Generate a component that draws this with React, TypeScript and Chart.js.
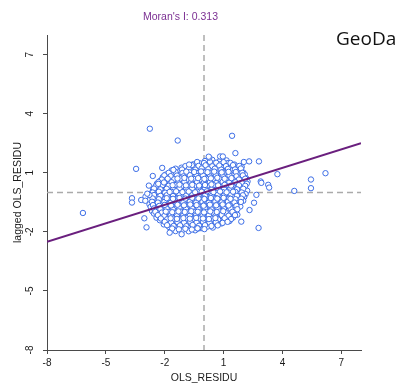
import React, { useEffect, useRef } from 'react';
import { Chart, registerables } from 'chart.js';

Chart.register(...registerables);

const titleText = "Moran's I: 0.313";
const brandText = 'GeoDa';
const xAxisTitle = 'OLS_RESIDU';
const yAxisTitle = 'lagged OLS_RESIDU';
const moranI = 0.313;
const axisMin = -8;
const axisMax = 8;
const meanX = 0;
const meanY = 0;
const xTickValues = [-8, -5, -2, 1, 4, 7];
const yTickValues = [-8, -5, -2, 1, 4, 7];

const corePoints: [number, number][] = [
  [0.05,1.6],[0.42,1.66],[0.78,1.58],[1.15,1.63],
  [-0.55,1.43],[-0.2,1.48],[0.12,1.41],[0.48,1.47],[0.85,1.44],[1.22,1.49],[1.55,1.42],
  [-1.15,1.26],[-0.8,1.31],[-0.45,1.24],[-0.1,1.3],[0.25,1.27],[0.6,1.32],[0.95,1.25],[1.3,1.29],[1.68,1.23],[1.92,1.3],
  [-1.65,1.12],[-1.3,1.06],[-0.95,1.14],[-0.6,1.08],[-0.28,1.03],[0.05,1.13],[0.38,1.09],[0.72,1.15],[1.05,1.05],[1.4,1.11],[1.75,1.07],[2.0,1.02],
  [-1.95,0.91],[-1.6,0.96],[-1.25,0.9],[-0.9,0.95],[-0.55,0.92],[-0.22,0.97],[0.12,0.89],[0.45,0.94],[0.8,0.91],[1.12,0.96],[1.48,0.9],[1.8,0.95],[2.08,0.92],
  [-2.1,0.78],[-1.78,0.73],[-1.45,0.79],[-1.12,0.74],[-0.78,0.77],[-0.45,0.72],[-0.12,0.8],[0.2,0.75],[0.55,0.78],[0.88,0.73],[1.2,0.79],[1.55,0.74],[1.88,0.77],[2.15,0.72],
  [-2.25,0.58],[-1.92,0.63],[-1.58,0.57],[-1.25,0.62],[-0.92,0.59],[-0.6,0.64],[-0.28,0.56],[0.05,0.61],[0.38,0.58],[0.7,0.63],[1.02,0.57],[1.35,0.62],[1.68,0.59],[2.0,0.64],[2.22,0.56],
  [-2.4,0.45],[-2.05,0.4],[-1.72,0.46],[-1.4,0.41],[-1.08,0.44],[-0.75,0.39],[-0.42,0.47],[-0.1,0.42],[0.22,0.45],[0.55,0.4],[0.88,0.46],[1.2,0.41],[1.52,0.44],[1.85,0.39],[2.18,0.45],
  [-2.5,0.25],[-2.18,0.3],[-1.85,0.24],[-1.52,0.29],[-1.2,0.26],[-0.88,0.31],[-0.55,0.23],[-0.22,0.28],[0.1,0.25],[0.42,0.3],[0.75,0.24],[1.08,0.29],[1.4,0.26],[1.72,0.31],[2.05,0.23],
  [-2.6,0.12],[-2.28,0.07],[-1.95,0.13],[-1.62,0.08],[-1.3,0.11],[-0.98,0.06],[-0.65,0.14],[-0.32,0.09],[0.0,0.12],[0.32,0.07],[0.65,0.13],[0.98,0.08],[1.3,0.11],[1.62,0.06],[1.95,0.14],[2.2,0.09],
  [-2.7,-0.05],[-2.38,-0.1],[-2.05,-0.04],[-1.72,-0.09],[-1.4,-0.06],[-1.08,-0.11],[-0.75,-0.03],[-0.42,-0.08],[-0.1,-0.05],[0.22,-0.1],[0.55,-0.04],[0.88,-0.09],[1.2,-0.06],[1.52,-0.11],[1.85,-0.03],[2.12,-0.08],
  [-2.75,-0.26],[-2.45,-0.21],[-2.12,-0.27],[-1.8,-0.22],[-1.48,-0.25],[-1.15,-0.2],[-0.82,-0.28],[-0.5,-0.23],[-0.18,-0.26],[0.15,-0.21],[0.48,-0.27],[0.8,-0.22],[1.12,-0.25],[1.45,-0.2],[1.78,-0.28],[2.05,-0.23],
  [-2.8,-0.39],[-2.5,-0.44],[-2.2,-0.38],[-1.88,-0.43],[-1.55,-0.4],[-1.22,-0.45],[-0.9,-0.37],[-0.58,-0.42],[-0.25,-0.39],[0.08,-0.44],[0.4,-0.38],[0.72,-0.43],[1.05,-0.4],[1.38,-0.45],[1.7,-0.37],[2.0,-0.42],
  [-2.78,-0.6],[-2.45,-0.55],[-2.12,-0.61],[-1.8,-0.56],[-1.48,-0.59],[-1.15,-0.54],[-0.82,-0.62],[-0.5,-0.57],[-0.18,-0.6],[0.15,-0.55],[0.48,-0.61],[0.8,-0.56],[1.12,-0.59],[1.45,-0.54],[1.78,-0.62],
  [-2.72,-0.73],[-2.4,-0.78],[-2.08,-0.72],[-1.75,-0.77],[-1.42,-0.74],[-1.1,-0.79],[-0.78,-0.71],[-0.45,-0.76],[-0.12,-0.73],[0.2,-0.78],[0.52,-0.72],[0.85,-0.77],[1.18,-0.74],[1.5,-0.79],[1.85,-0.71],
  [-2.65,-0.94],[-2.32,-0.89],[-2.0,-0.95],[-1.68,-0.9],[-1.35,-0.93],[-1.02,-0.88],[-0.7,-0.96],[-0.38,-0.91],[-0.05,-0.94],[0.28,-0.89],[0.6,-0.95],[0.92,-0.9],[1.25,-0.93],[1.58,-0.88],
  [-2.55,-1.07],[-2.22,-1.12],[-1.9,-1.06],[-1.58,-1.11],[-1.25,-1.08],[-0.92,-1.13],[-0.6,-1.05],[-0.28,-1.1],[0.05,-1.07],[0.38,-1.12],[0.7,-1.06],[1.02,-1.11],[1.35,-1.08],[1.7,-1.13],
  [-2.42,-1.28],[-2.1,-1.23],[-1.78,-1.29],[-1.45,-1.24],[-1.12,-1.27],[-0.8,-1.22],[-0.48,-1.3],[-0.15,-1.25],[0.18,-1.28],[0.5,-1.23],[0.82,-1.29],[1.15,-1.24],[1.48,-1.27],
  [-2.25,-1.41],[-1.92,-1.46],[-1.6,-1.4],[-1.28,-1.45],[-0.95,-1.42],[-0.62,-1.47],[-0.3,-1.39],[0.02,-1.44],[0.35,-1.41],[0.68,-1.46],[1.0,-1.4],[1.3,-1.45],
  [-2.05,-1.62],[-1.72,-1.57],[-1.4,-1.63],[-1.08,-1.58],[-0.75,-1.61],[-0.42,-1.56],[-0.1,-1.64],[0.22,-1.59],[0.55,-1.62],[0.9,-1.57],
  [-1.78,-1.75],[-1.45,-1.8],[-1.12,-1.74],[-0.8,-1.79],[-0.48,-1.76],[-0.15,-1.81],[0.18,-1.73],[0.45,-1.78],
  [-1.45,-1.96],[-1.1,-1.91],[-0.78,-1.97],[-0.45,-1.92],
];

const coreFillPoints: [number, number][] = [
  [-0.35,1.55],[0.0,1.5],[0.3,1.56],[0.62,1.51],[1.0,1.54],[1.35,1.5],
  [-0.95,1.34],[-0.62,1.39],[-0.28,1.35],[0.08,1.38],[0.42,1.33],[0.78,1.37],[1.12,1.34],[1.48,1.39],[1.8,1.35],
  [-1.45,1.21],[-1.12,1.17],[-0.78,1.2],[-0.44,1.16],[-0.12,1.22],[0.22,1.18],[0.55,1.21],[0.88,1.16],[1.22,1.2],[1.58,1.17],[1.88,1.22],
  [-1.8,1.0],[-1.45,1.04],[-1.1,0.99],[-0.75,1.03],[-0.4,1.0],[-0.05,1.05],[0.28,1.01],[0.62,0.98],[0.95,1.03],[1.3,0.99],[1.62,1.04],[1.95,1.0],
  [-2.02,0.87],[-1.7,0.83],[-1.38,0.86],[-1.05,0.82],[-0.72,0.88],[-0.38,0.84],[-0.05,0.86],[0.3,0.82],[0.62,0.87],[0.95,0.84],[1.3,0.86],[1.65,0.82],[1.98,0.87],
  [-2.15,0.66],[-1.85,0.7],[-1.52,0.67],[-1.2,0.71],[-0.85,0.65],[-0.52,0.69],[-0.2,0.66],[0.12,0.7],[0.45,0.67],[0.78,0.71],[1.12,0.65],[1.45,0.69],[1.78,0.66],[2.1,0.7],
  [-2.32,0.53],[-2.0,0.49],[-1.65,0.52],[-1.32,0.48],[-1.0,0.54],[-0.68,0.5],[-0.35,0.53],[-0.02,0.49],[0.3,0.52],[0.62,0.48],[0.95,0.54],[1.28,0.5],[1.6,0.52],[1.92,0.49],
  [-2.45,0.33],[-2.12,0.37],[-1.8,0.34],[-1.48,0.38],[-1.15,0.32],[-0.82,0.36],[-0.5,0.33],[-0.18,0.37],[0.15,0.34],[0.48,0.38],[0.8,0.32],[1.12,0.36],[1.45,0.33],[1.78,0.37],[2.1,0.34],
  [-2.55,0.2],[-2.22,0.16],[-1.9,0.19],[-1.58,0.15],[-1.25,0.21],[-0.92,0.17],[-0.6,0.2],[-0.28,0.16],[0.05,0.19],[0.38,0.15],[0.7,0.21],[1.02,0.17],[1.35,0.2],[1.68,0.16],[2.0,0.19],
  [-2.62,0.0],[-2.3,0.04],[-1.98,-0.01],[-1.65,0.03],[-1.32,-0.02],[-1.0,0.02],[-0.68,-0.01],[-0.35,0.04],[-0.02,0.0],[0.3,0.03],[0.62,-0.02],[0.95,0.02],[1.28,-0.01],[1.6,0.03],[1.92,0.0],
  [-2.55,-0.13],[-2.22,-0.17],[-1.9,-0.14],[-1.58,-0.18],[-1.25,-0.12],[-0.92,-0.16],[-0.6,-0.13],[-0.28,-0.17],[0.05,-0.14],[0.38,-0.18],[0.7,-0.12],[1.02,-0.16],[1.35,-0.13],[1.68,-0.17],[1.98,-0.14],
  [-2.62,-0.3],[-2.3,-0.34],[-1.98,-0.31],[-1.65,-0.35],[-1.32,-0.29],[-1.0,-0.33],[-0.68,-0.3],[-0.35,-0.34],[-0.02,-0.31],[0.3,-0.35],[0.62,-0.29],[0.95,-0.33],[1.28,-0.3],[1.6,-0.34],[1.9,-0.31],
  [-2.65,-0.47],[-2.35,-0.51],[-2.02,-0.48],[-1.7,-0.52],[-1.38,-0.46],[-1.05,-0.5],[-0.72,-0.47],[-0.4,-0.51],[-0.08,-0.48],[0.25,-0.52],[0.58,-0.46],[0.9,-0.5],[1.22,-0.47],[1.55,-0.51],[1.88,-0.48],
  [-2.6,-0.64],[-2.28,-0.68],[-1.95,-0.65],[-1.62,-0.69],[-1.3,-0.63],[-0.98,-0.67],[-0.65,-0.64],[-0.32,-0.68],[0.0,-0.65],[0.32,-0.69],[0.65,-0.63],[0.98,-0.67],[1.3,-0.64],[1.65,-0.68],
  [-2.55,-0.81],[-2.22,-0.85],[-1.9,-0.82],[-1.58,-0.86],[-1.25,-0.8],[-0.92,-0.84],[-0.6,-0.81],[-0.28,-0.85],[0.05,-0.82],[0.38,-0.86],[0.7,-0.8],[1.02,-0.84],[1.35,-0.81],[1.7,-0.85],
  [-2.48,-0.98],[-2.15,-1.02],[-1.82,-0.99],[-1.5,-1.03],[-1.18,-0.97],[-0.85,-1.01],[-0.52,-0.98],[-0.2,-1.02],[0.12,-0.99],[0.45,-1.03],[0.78,-0.97],[1.1,-1.01],[1.45,-0.98],
  [-2.35,-1.15],[-2.02,-1.19],[-1.7,-1.16],[-1.38,-1.2],[-1.05,-1.14],[-0.72,-1.18],[-0.4,-1.15],[-0.08,-1.19],[0.25,-1.16],[0.58,-1.2],[0.9,-1.14],[1.25,-1.18],[1.58,-1.15],
  [-2.2,-1.32],[-1.88,-1.36],[-1.55,-1.33],[-1.22,-1.37],[-0.9,-1.31],[-0.58,-1.35],[-0.25,-1.32],[0.08,-1.36],[0.4,-1.33],[0.72,-1.37],[1.05,-1.31],[1.38,-1.35],
  [-2.0,-1.49],[-1.68,-1.53],[-1.35,-1.5],[-1.02,-1.54],[-0.7,-1.48],[-0.38,-1.52],[-0.05,-1.49],[0.28,-1.53],[0.6,-1.5],[0.95,-1.54],[1.2,-1.49],
  [-1.88,-1.66],[-1.55,-1.7],[-1.22,-1.67],[-0.9,-1.71],[-0.58,-1.65],[-0.25,-1.69],[0.05,-1.66],[0.38,-1.7],[0.7,-1.67],
  [-1.62,-1.83],[-1.28,-1.87],[-0.95,-1.84],[-0.62,-1.88],[-0.3,-1.83],[0.02,-1.86],
];

const centerPoints: [number, number][] = [
  [-0.9,1.06],[-0.5,1.04],[-0.15,1.07],[0.18,1.03],[0.52,1.06],[0.9,1.02],[1.25,1.05],
  [-1.35,0.71],[-1.0,0.74],[-0.65,0.7],[-0.3,0.73],[0.02,0.69],[0.35,0.72],[0.68,0.75],[1.05,0.7],[1.4,0.73],
  [-1.6,0.37],[-1.25,0.4],[-0.92,0.36],[-0.6,0.39],[-0.25,0.35],[0.05,0.38],[0.38,0.41],[0.72,0.36],[1.05,0.39],[1.38,0.35],
  [-1.75,0.03],[-1.42,0.06],[-1.1,0.02],[-0.78,0.05],[-0.45,0.01],[-0.12,0.04],[0.15,0.06],[0.48,0.02],[0.82,0.05],[1.15,0.01],[1.48,0.04],
  [-1.9,-0.29],[-1.58,-0.32],[-1.25,-0.28],[-0.95,-0.31],[-0.6,-0.27],[-0.28,-0.3],[0.02,-0.33],[0.35,-0.28],[0.68,-0.31],[1.0,-0.27],[1.35,-0.32],
  [-2.0,-0.63],[-1.68,-0.66],[-1.35,-0.62],[-1.02,-0.65],[-0.7,-0.61],[-0.38,-0.64],[-0.02,-0.67],[0.3,-0.62],[0.62,-0.65],[0.95,-0.61],[1.25,-0.66],
  [-1.95,-0.97],[-1.62,-1.0],[-1.3,-0.96],[-0.98,-0.99],[-0.65,-0.95],[-0.32,-0.98],[0.0,-1.01],[0.32,-0.96],[0.65,-0.99],[0.98,-0.95],
  [-1.7,-1.31],[-1.38,-1.34],[-1.05,-1.3],[-0.72,-1.33],[-0.4,-1.29],[-0.05,-1.32],[0.25,-1.35],[0.58,-1.3],
];

const outlierPoints: [number, number][] = [
  [-2.76,3.24],[-1.34,2.64],[1.43,2.88],[-3.46,1.2],[-2.13,1.25],[-1.56,1.15],[-2.61,0.84],
  [0.27,1.77],[0.82,1.83],[0.96,1.83],[1.6,2.0],[2.03,1.55],[2.3,1.58],[2.8,1.58],[3.74,0.93],
  [-3.67,-0.29],[-3.67,-0.51],[-3.2,-0.38],[-3.04,-1.31],[-2.93,-1.77],[-1.75,-2.04],[-1.14,-2.12],[-0.33,-1.82],
  [1.9,-1.48],[2.78,-1.8],[2.32,-0.89],[2.55,-0.52],[2.67,-0.12],[2.89,0.56],[3.27,0.39],
  [-6.17,-1.04],[4.6,0.08],[5.45,0.66],[5.45,0.22],[6.19,0.98],[3.32,0.25],[2.92,0.49],
  [-2.33,0.44],[-2.04,0.51],[-2.81,0.35],[-2.98,-0.21],[-2.78,-0.12],[-0.76,1.42],[0.24,1.82],
  [-2.89,-0.06],[-2.99,-0.42],
];

const fitXs = [axisMin, axisMax];

const FONT = '"Liberation Sans", Arial, Helvetica, sans-serif';
const AXIS_COLOR = '#4a4a4a';
const TEXT_COLOR = '#1a1a1a';

const meanLinesPlugin = {
  id: 'meanLines',
  beforeDatasetsDraw(chart: any) {
    const { ctx, chartArea, scales } = chart;
    const px = scales.x.getPixelForValue(meanX);
    const py = scales.y.getPixelForValue(meanY);
    ctx.save();
    ctx.strokeStyle = '#aaaaaa';
    ctx.lineWidth = 1.5;
    ctx.setLineDash([6, 4]);
    ctx.beginPath();
    ctx.moveTo(px, chartArea.top);
    ctx.lineTo(px, chartArea.bottom);
    ctx.moveTo(chartArea.left, py);
    ctx.lineTo(chartArea.right, py);
    ctx.stroke();
    ctx.restore();
  },
};

const brandPlugin = {
  id: 'brandPlugin',
  afterDraw(chart: any) {
    const ctx = chart.ctx;
    ctx.save();
    ctx.font = '19px "Open Sans", sans-serif';
    ctx.fillStyle = '#111';
    ctx.textAlign = 'left';
    ctx.textBaseline = 'alphabetic';
    ctx.fillText(brandText, 336, 45);
    ctx.restore();
  },
};

export default function App() {
  const ref = useRef<HTMLCanvasElement | null>(null);
  useEffect(() => {
    if (!ref.current) return;
    const toXY = (p: [number, number]) => ({ x: p[0], y: p[1] });
    const chart = new Chart(ref.current, {
      type: 'scatter',
      data: {
        datasets: [
          {
            type: 'line',
            data: fitXs.map((x) => ({ x, y: x * moranI })),
            borderColor: '#6a1f7e',
            borderWidth: 2,
            pointRadius: 0,
            showLine: true,
            fill: false,
            order: 0,
          } as any,
          {
            data: [...corePoints, ...coreFillPoints, ...centerPoints, ...outlierPoints].map(toXY),
            pointRadius: 2.7,
            pointBorderWidth: 1,
            pointBorderColor: '#3d6ee6',
            pointBackgroundColor: '#ffffff',
            borderColor: '#3d6ee6',
            backgroundColor: '#ffffff',
            order: 1,
          },
        ],
      },
      options: {
        animation: false,
        responsive: false,
        maintainAspectRatio: false,
        layout: { padding: { left: 0, right: 45, top: 0, bottom: 0 } },
        plugins: {
          legend: { display: false },
          tooltip: { enabled: false },
          title: {
            display: true,
            text: titleText,
            color: '#7b2f92',
            font: { family: FONT, size: 10.5, weight: 'normal' },
            padding: { top: 10.7, bottom: 11.7 },
          },
        },
        scales: {
          x: {
            type: 'linear',
            min: axisMin,
            max: axisMax,
            afterBuildTicks: (s: any) => {
              s.ticks = xTickValues.map((v) => ({ value: v }));
            },
            afterFit: (s: any) => {
              s.height = 35;
            },
            ticks: {
              autoSkip: false,
              maxRotation: 0,
              padding: 3,
              color: TEXT_COLOR,
              font: { family: FONT, size: 10 },
            },
            grid: { display: true, drawOnChartArea: false, drawTicks: true, tickLength: 4, color: AXIS_COLOR },
            border: { display: true, color: AXIS_COLOR, width: 1 },
            title: {
              display: true,
              text: xAxisTitle,
              color: TEXT_COLOR,
              font: { family: FONT, size: 10.5 },
              padding: { top: 0, bottom: 1 },
            },
          },
          y: {
            type: 'linear',
            min: axisMin,
            max: axisMax,
            afterBuildTicks: (s: any) => {
              s.ticks = yTickValues.map((v) => ({ value: v }));
            },
            afterFit: (s: any) => {
              s.width = 47;
            },
            ticks: {
              autoSkip: false,
              minRotation: 90,
              maxRotation: 90,
              crossAlign: 'center',
              padding: 8.5,
              color: TEXT_COLOR,
              font: { family: FONT, size: 10 },
            },
            grid: { display: true, drawOnChartArea: false, drawTicks: true, tickLength: 4, color: AXIS_COLOR },
            border: { display: true, color: AXIS_COLOR, width: 1 },
            title: {
              display: true,
              text: yAxisTitle,
              color: TEXT_COLOR,
              font: { family: FONT, size: 10.5 },
              padding: { top: 11.7, bottom: 0 },
            },
          },
        },
      } as any,
      plugins: [meanLinesPlugin, brandPlugin],
    });
    return () => chart.destroy();
  }, []);

  return (
    <div style={{ position: 'absolute', left: 0, top: 0, width: 406, height: 385, background: '#fff' }}>
      <canvas ref={ref} width={406} height={385} style={{ width: 406, height: 385, display: 'block' }} />
    </div>
  );
}
